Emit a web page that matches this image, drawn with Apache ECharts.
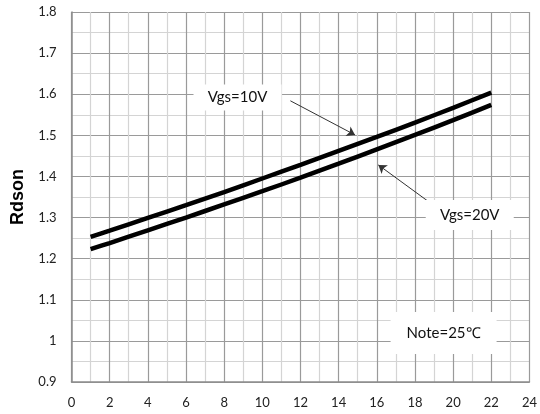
<!DOCTYPE html>
<html>
<head>
<meta charset="utf-8">
<script src="https://cdn.jsdelivr.net/npm/echarts@6/dist/echarts.min.js"></script>
<style>
html,body{margin:0;padding:0;background:#fff;}
#chart{width:540px;height:414px;}
</style>
</head>
<body>
<div id="chart"></div>
<script>
// Data
var xValues = [1, 2, 4, 6, 8, 10, 12, 14, 16, 18, 20, 22];
var vgs10 = [1.253, 1.268, 1.299, 1.330, 1.362, 1.395, 1.428, 1.462, 1.496, 1.531, 1.567, 1.604];
var vgs20 = [1.223, 1.238, 1.269, 1.300, 1.332, 1.364, 1.397, 1.431, 1.466, 1.501, 1.537, 1.574];
var seriesNames = ['Vgs=10V', 'Vgs=20V'];
var noteText = 'Note=25\u2103';
var yAxisTitle = 'Rdson';

function pairs(xs, ys) { return xs.map(function (x, i) { return [x, ys[i]]; }); }

var chart = echarts.init(document.getElementById('chart'), null, { renderer: 'canvas' });
var labelFont = 'Lato';
var boxLabel = function (text, w, h, fs) {
  return {
    symbol: 'rect', symbolSize: [w, h],
    itemStyle: { color: '#ffffff' },
    label: { show: true, position: 'inside', formatter: text, color: '#111', fontSize: fs, fontFamily: labelFont }
  };
};
var option = {
  animation: false,
  backgroundColor: '#ffffff',
  grid: { left: 71.5, right: 8, top: 12, bottom: 32, show: false },
  xAxis: {
    type: 'value', min: 0, max: 24, interval: 2,
    axisLine: { show: true, onZero: false, lineStyle: { color: '#8c8c8c', width: 1.5 } },
    axisTick: { show: false },
    axisLabel: { color: '#222', fontSize: 13, fontFamily: labelFont, margin: 14 },
    splitLine: { show: true, lineStyle: { color: '#9a9a9a', width: 1.2 } },
    minorTick: { show: false, splitNumber: 2 },
    minorSplitLine: { show: true, lineStyle: { color: '#d4d4d4', width: 1.2 } }
  },
  yAxis: {
    type: 'value', min: 0.9, max: 1.8, interval: 0.1,
    name: yAxisTitle, nameLocation: 'middle', nameGap: 44,
    nameTextStyle: { fontFamily: 'Liberation Sans', fontWeight: 'bold', fontSize: 18, color: '#000' },
    axisLine: { show: true, lineStyle: { color: '#8c8c8c', width: 1.5 } },
    axisTick: { show: false },
    axisLabel: { color: '#222', fontSize: 13, fontFamily: labelFont, margin: 15 },
    splitLine: { show: true, lineStyle: { color: '#9a9a9a', width: 1.2 } },
    minorTick: { show: false, splitNumber: 2 },
    minorSplitLine: { show: true, lineStyle: { color: '#d4d4d4', width: 1.2 } }
  },
  series: [
    {
      name: seriesNames[0], type: 'line', data: pairs(xValues, vgs10),
      showSymbol: false, smooth: 0.3,
      lineStyle: { color: '#000', width: 4.5 },
      markPoint: {
        silent: true,
        data: [
          Object.assign({ coord: [8.7, 1.592] }, boxLabel(seriesNames[0], 88, 26, 15)),
          Object.assign({ coord: [20.87, 1.306] }, boxLabel(seriesNames[1], 88, 30, 15)),
          Object.assign({ coord: [19.5, 1.019] }, boxLabel(noteText, 106, 42, 15))
        ]
      },
      markLine: {
        silent: true,
        symbol: ['none', 'arrow'], symbolSize: 8,
        label: { show: false },
        lineStyle: { color: '#333', width: 1, type: 'solid' },
        data: [
          [{ coord: [11.47, 1.584] }, { coord: [14.86, 1.501] }],
          [{ coord: [18.94, 1.331] }, { coord: [16.08, 1.428] }]
        ]
      }
    },
    {
      name: seriesNames[1], type: 'line', data: pairs(xValues, vgs20),
      showSymbol: false, smooth: 0.3,
      lineStyle: { color: '#000', width: 4.5 }
    }
  ]
};
chart.setOption(option);
</script>
</body>
</html>
